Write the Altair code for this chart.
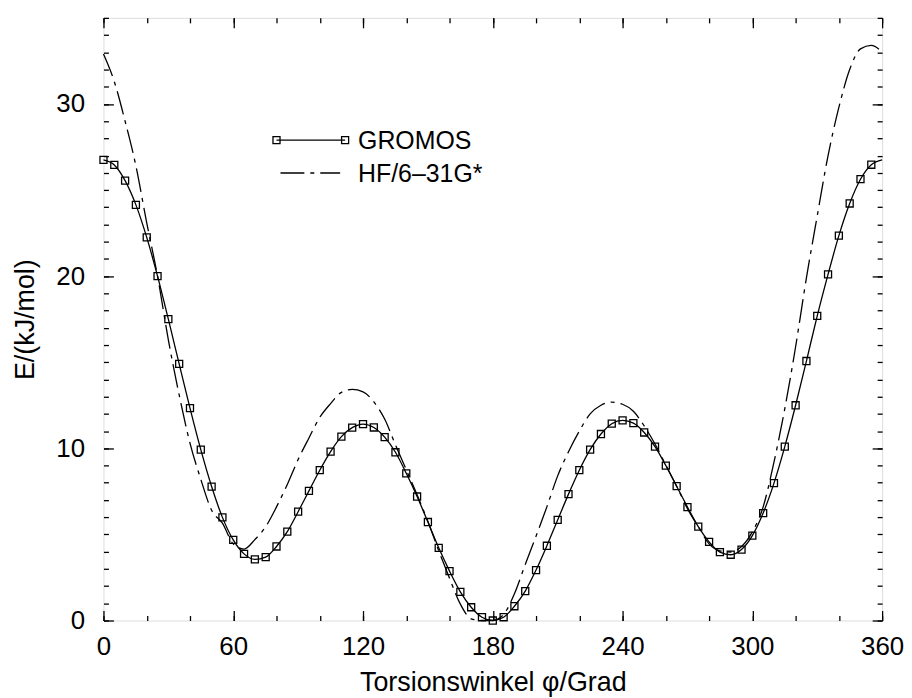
import altair as alt
import pandas as pd

# torsion angle (degrees)
angles = list(range(0, 361, 5))

# GROMOS energies (kJ/mol), read at every 5 degrees
gromos = [26.75, 26.46, 25.55, 24.14, 22.25, 20.0, 17.5, 14.9, 12.33, 9.92,
          7.78, 5.99, 4.68, 3.87, 3.55, 3.68, 4.30, 5.16, 6.32, 7.53,
          8.73, 9.81, 10.68, 11.2, 11.41, 11.21, 10.65, 9.77, 8.55, 7.2,
          5.72, 4.22, 2.87, 1.66, 0.77, 0.19, 0.0, 0.19, 0.83, 1.71,
          2.93, 4.34, 5.84, 7.34, 8.73, 9.92, 10.83, 11.43, 11.62, 11.46,
          10.92, 10.1, 9.0, 7.8, 6.59, 5.45, 4.57, 3.97, 3.82, 4.12,
          4.93, 6.24, 7.98, 10.1, 12.5, 15.07, 17.69, 20.1, 22.35, 24.22,
          25.63, 26.47, 26.75]

# HF/6-31G* energies (kJ/mol), read at every 5 degrees
hf = [32.9, 31.3, 29.0, 26.4, 23.1, 20.0, 16.3, 13.1, 10.3, 8.2,
      6.4, 5.65, 4.45, 4.15, 4.7, 5.45, 6.6, 7.9, 9.35, 10.6,
      11.8, 12.6, 13.25, 13.42, 13.28, 12.7, 11.7, 10.2, 8.75, 7.3,
      5.75, 4.05, 2.45, 0.95, 0.1, 0.0, 0.0, 0.35, 1.55, 3.25,
      4.9, 6.6, 8.4, 9.8, 11.0, 12.0, 12.5, 12.68, 12.56, 12.15,
      11.3, 10.25, 9.02, 7.8, 6.5, 5.45, 4.45, 4.05, 3.98, 4.3,
      5.15, 6.6, 9.2, 12.3, 15.9, 19.9, 23.5, 27.0, 29.8, 32.0,
      33.2, 33.4, 33.0]

x_major = [0, 60, 120, 180, 240, 300, 360]
x_minor = list(range(0, 361, 20))
y_major = [0, 10, 20, 30]
y_minor = list(range(0, 36, 1))

legend_labels = ["GROMOS", "HF/6\u201331G*"]

df = pd.DataFrame({"phi": angles, "gromos": gromos, "hf": hf})
leg = pd.DataFrame({"label": legend_labels})

FONT = "Liberation Sans"
xs = alt.Scale(domain=[0, 360], nice=False, zero=False)
ys = alt.Scale(domain=[0, 35], nice=False, zero=False)

common = dict(domain=False, grid=False, tickColor="black", tickWidth=1.3,
              labelFont=FONT, titleFont=FONT, labelColor="black",
              titleColor="black", labelFlush=False, labelOverlap=False)

ax_b_major = alt.Axis(orient="bottom", values=x_major, tickSize=10, offset=-10,
                      labelPadding=13.5, labelFontSize=26, title="Torsionswinkel \u03c6/Grad",
                      titleFontSize=27, titleFontWeight="normal", titlePadding=10, **common)
ax_t_major = alt.Axis(orient="top", values=x_major, tickSize=10, offset=-10,
                      labels=False, title="", **common)
ax_b_minor = alt.Axis(orient="bottom", values=x_minor, tickSize=5, offset=-5,
                      labels=False, title="", **common)
ax_t_minor = alt.Axis(orient="top", values=x_minor, tickSize=5, offset=-5,
                      labels=False, title="", **common)

ay_l_major = alt.Axis(orient="left", values=y_major, tickSize=10, offset=-10,
                      labelPadding=19, labelFontSize=26, title="E/(kJ/mol)",
                      titleFontSize=27, titleFontWeight="normal", titlePadding=16, **common)
ay_r_major = alt.Axis(orient="right", values=y_major, tickSize=10, offset=-10,
                      labels=False, title="", **common)
ay_l_minor = alt.Axis(orient="left", values=y_minor, tickSize=5, offset=-5,
                      labels=False, title="", **common)
ay_r_minor = alt.Axis(orient="right", values=y_minor, tickSize=5, offset=-5,
                      labels=False, title="", **common)

base = alt.Chart(df)

gromos_line = base.mark_line(color="black", strokeWidth=1.3, interpolate="monotone").encode(
    x=alt.X("phi:Q", scale=xs, axis=ax_b_major),
    y=alt.Y("gromos:Q", scale=ys, axis=ay_l_major),
)

gromos_pts = base.transform_filter("datum.phi < 360").mark_point(
    shape="square", size=50, filled=False, color="black", strokeWidth=1.3, opacity=1
).encode(
    x=alt.X("phi:Q", scale=xs, axis=ax_t_major),
    y=alt.Y("gromos:Q", scale=ys, axis=ay_r_major),
)

hf_line = base.mark_line(color="black", strokeWidth=1.3, strokeDash=[24, 6, 4, 6],
                         interpolate="monotone").encode(
    x=alt.X("phi:Q", scale=xs, axis=ax_b_minor),
    y=alt.Y("hf:Q", scale=ys, axis=ay_l_minor),
)

minor_holder = base.mark_line(opacity=0).encode(
    x=alt.X("phi:Q", scale=xs, axis=ax_t_minor),
    y=alt.Y("hf:Q", scale=ys, axis=ay_r_minor),
)

# legend (drawn inside the plot, upper left)
leg_rule = alt.Chart(leg).transform_filter("datum.label == 'GROMOS'").mark_rule(
    color="black", strokeWidth=1.3).encode(
    x=alt.value(174), x2=alt.value(243), y=alt.value(123))
leg_sq1 = alt.Chart(leg).transform_filter("datum.label == 'GROMOS'").mark_point(
    shape="square", size=50, filled=False, color="black", strokeWidth=1.3, opacity=1).encode(
    x=alt.value(174), y=alt.value(123))
leg_sq2 = alt.Chart(leg).transform_filter("datum.label == 'GROMOS'").mark_point(
    shape="square", size=50, filled=False, color="black", strokeWidth=1.3, opacity=1).encode(
    x=alt.value(243), y=alt.value(123))
leg_dash = alt.Chart(leg).transform_filter("datum.label != 'GROMOS'").mark_rule(
    color="black", strokeWidth=1.3, strokeDash=[24, 6, 4, 6]).encode(
    x=alt.value(178), x2=alt.value(238), y=alt.value(156))
leg_t1 = alt.Chart(leg).transform_filter("datum.label == 'GROMOS'").mark_text(
    align="left", baseline="middle", font=FONT, fontSize=25, color="black").encode(
    x=alt.value(256), y=alt.value(123.5), text="label:N")
leg_t2 = alt.Chart(leg).transform_filter("datum.label != 'GROMOS'").mark_text(
    align="left", baseline="middle", font=FONT, fontSize=25, color="black").encode(
    x=alt.value(256), y=alt.value(157), text="label:N")

chart = alt.layer(
    gromos_line, gromos_pts, hf_line, minor_holder,
    leg_rule, leg_sq1, leg_sq2, leg_dash, leg_t1, leg_t2
).resolve_axis(x="independent", y="independent").properties(
    width=783, height=606,
    padding={"left": 96, "top": 8, "right": 22, "bottom": 76},
    autosize=alt.AutoSizeParams(type="none"),
).configure_view(stroke="black", strokeWidth=1.5).configure(background="white")

chart.save("out.html", embed_options={"renderer": "svg", "actions": False})
